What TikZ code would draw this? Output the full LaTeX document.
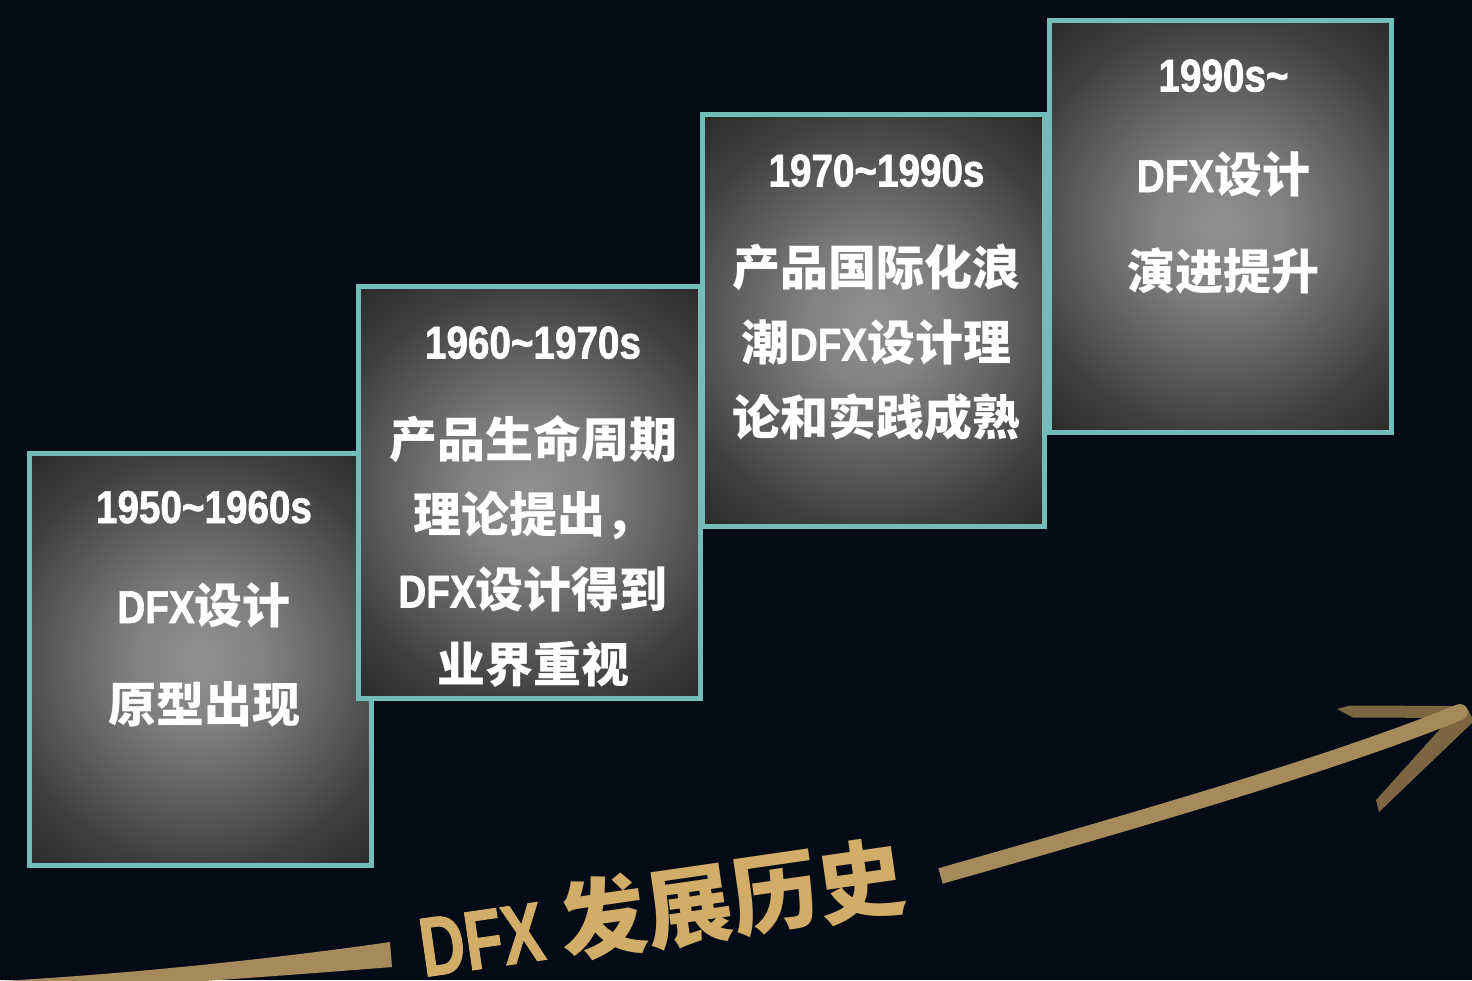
\documentclass[tikz,border=0pt]{standalone}
\usepackage{fontspec}
\setmainfont{Liberation Sans}
\newfontfamily\LatB{Liberation Sans Bold}[FakeStretch=0.84, FakeBold=1.4]
\newfontfamily\TitLat{Liberation Sans Bold}[FakeStretch=0.74, FakeBold=1.2]
\newfontfamily\CjkF{Noto Sans CJK SC}
\definecolor{bgc}{RGB}{4,10,22}
\definecolor{teal}{RGB}{114,188,185}
\definecolor{shaftc}{RGB}{166,138,92}
\definecolor{barbc}{RGB}{123,102,65}
\definecolor{goldt}{RGB}{210,173,103}
\definecolor{g0}{RGB}{145,145,145}
\definecolor{g1}{RGB}{130,130,130}
\definecolor{g2}{RGB}{100,100,100}
\definecolor{g3}{RGB}{80,80,80}
\definecolor{g4}{RGB}{64,64,64}
\definecolor{g5}{RGB}{42,42,42}
\pgfdeclareradialshading{boxglow}{\pgfpoint{0bp}{0bp}}{color(0bp)=(g0); color(6bp)=(g1); color(12bp)=(g2); color(16bp)=(g3); color(19bp)=(g4); color(25bp)=(g5); color(50bp)=(g5)}
\newcommand\Hd[1]{{\LatB\fontsize{46}{50}\selectfont #1}}
\newcommand\Lt[1]{{\LatB\fontsize{46}{50}\selectfont #1}}
\newcommand\Cj[1]{{\CjkF\bfseries\fontsize{48}{52}\selectfont #1}}
\tikzset{
  stagebox/.style={draw=teal, line width=5pt, inner sep=0pt, outer sep=0pt,
    minimum width=342pt, minimum height=412pt,
    path picture={\shade[shading=boxglow]
      ([shift={(-268pt,-268pt)}]path picture bounding box.center) rectangle
      ([shift={(268pt,268pt)}]path picture bounding box.center);}},
  txt/.style={text=white, inner sep=0pt, anchor=base}
}
\begin{document}
\begin{tikzpicture}[x=1pt,y=-1pt]
\useasboundingbox (0,0) rectangle (1472,980);
\fill[bgc] (0,0) rectangle (1472,980);
\begin{scope}
\clip (0,0) rectangle (1472,980);
% boxes
\node[stagebox] (b1) at (200.5,659.5) {};
\node[stagebox] (b2) at (529.5,492.5) {};
\node[stagebox] (b3) at (873,320.5) {};
\node[stagebox] (b4) at (1220,226.5) {};
% box 1 text
\node[txt] (t11) at (204,523) {\Hd{1950\char"7E 1960s}};
\node[txt] (t12) at (204,623) {\Lt{DFX}\Cj{设计}};
\node[txt] (t13) at (204,722) {\Cj{原型出现}};
% box 2 text
\node[txt] (t21) at (533,358.5) {\Hd{1960\char"7E 1970s}};
\node[txt] (t22) at (533,457.5) {\Cj{产品生命周期}};
\node[txt] (t23) at (533,532.5) {\Cj{理论提出，}};
\node[txt] (t24) at (533,607.5) {\Lt{DFX}\Cj{设计得到}};
\node[txt] (t25) at (533,682.5) {\Cj{业界重视}};
% box 3 text
\node[txt] (t31) at (876.5,186.5) {\Hd{1970\char"7E 1990s}};
\node[txt] (t32) at (876.5,285.5) {\Cj{产品国际化浪}};
\node[txt] (t33) at (876.5,360.5) {\Cj{潮}\Lt{DFX}\Cj{设计理}};
\node[txt] (t34) at (876.5,435.5) {\Cj{论和实践成熟}};
% box 4 text
\node[txt] (t41) at (1223.5,91.5) {\Hd{1990s\char"7E}};
\node[txt] (t42) at (1223.5,192) {\Lt{DFX}\Cj{设计}};
\node[txt] (t43) at (1223.5,289) {\Cj{演进提升}};
% arrow, left part
\fill[shaftc] (0,981) .. controls (130,974) and (280,958) .. (390,942)
  -- (392,967) .. controls (280,976) and (150,985) .. (0,995) -- cycle;
% arrow head barbs
\fill[barbc] (1337,709) -- (1350,705.5) -- (1462,706) -- (1462,718) -- (1353,717.5) -- cycle;
\fill[barbc] (1376,800) -- (1450,718) -- (1468,710) -- (1474,721) -- (1379,812) -- cycle;
% arrow shaft
\coordinate (s0) at (940.5,876);
\coordinate (tip) at (1460,712);
\draw[shaftc, line width=16pt] (s0) .. controls (1130,822) and (1330,765) .. (tip);
\fill[shaftc] (tip) circle (8pt);
% title
\node[text=goldt, inner sep=0pt, anchor=base west, rotate=8.2] (title) at (424,977)
  {{\TitLat\fontsize{84}{90}\selectfont DFX }{\CjkF\bfseries\fontsize{87}{90}\selectfont 发展历史}};
\end{scope}
\end{tikzpicture}
\end{document}
